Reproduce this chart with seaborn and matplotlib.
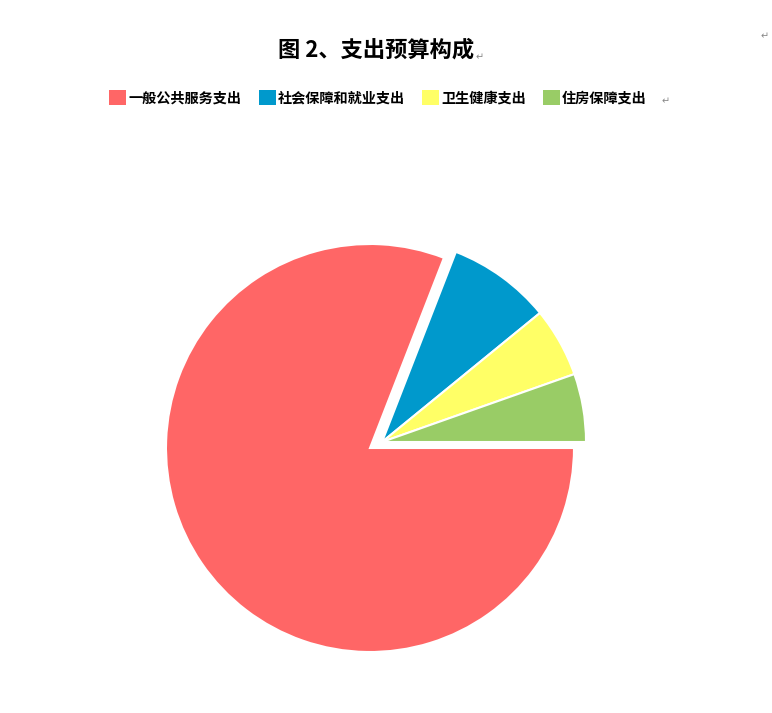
import matplotlib
matplotlib.use("Agg")
import matplotlib.pyplot as plt
from matplotlib.patches import Patch
import seaborn as sns

# data
categories = ["一般公共服务支出", "社会保障和就业支出", "卫生健康支出", "住房保障支出"]
shares = [80.9, 8.2, 5.5, 5.4]
colors = ["#FF6666", "#0099CC", "#FFFF66", "#99CC66"]
title = "图 2、支出预算构成"

sns.set_theme(style="white")
plt.rcParams["font.family"] = ["Noto Sans CJK SC", "DejaVu Sans"]
palette = sns.color_palette(colors)

fig = plt.figure(figsize=(7.72, 7.13), dpi=100)

# pie axes: centre (370, 448) px, radius 204 px
R = 204.0
half = 250.0
ax = fig.add_axes([(370 - half) / 772, (713 - 448 - half) / 713, 2 * half / 772, 2 * half / 713])
wedges, _ = ax.pie(shares, colors=palette, startangle=0, counterclock=False,
                   radius=1.0, wedgeprops=dict(edgecolor="white", linewidth=1.5))
# the small slices are pulled out together as one group
for w in wedges[1:]:
    w.set_center((12 / R, 6 / R))
ax.set_xlim(-half / R, half / R)
ax.set_ylim(-half / R, half / R)
ax.set_aspect("equal")
ax.axis("off")

# title
fig.text(376 / 772, 1 - 50 / 713, title, ha="center", va="center",
         fontsize=16, fontweight="bold", color="black")
fig.text(480 / 772, 1 - 57 / 713, "↵", ha="center", va="center",
         fontsize=7, color="#888888", family=["DejaVu Sans"])
fig.text(765 / 772, 1 - 36 / 713, "↵", ha="center", va="center",
         fontsize=7, color="#888888", family=["DejaVu Sans"])

# legend
handles = [Patch(facecolor=c, edgecolor="none") for c in palette]
leg = fig.legend(handles, categories, loc="center", ncol=4,
                 bbox_to_anchor=(378 / 772, 1 - 98 / 713), frameon=False,
                 handlelength=1.2, handleheight=1.2, handletextpad=0.15,
                 columnspacing=1.2, prop={"size": 10.2, "weight": "bold"})
for t in leg.get_texts():
    t.set_color("black")
fig.text(666 / 772, 1 - 101 / 713, "↵", ha="center", va="center",
         fontsize=7, color="#888888", family=["DejaVu Sans"])

fig.savefig("out.png", dpi=100, facecolor="white")
